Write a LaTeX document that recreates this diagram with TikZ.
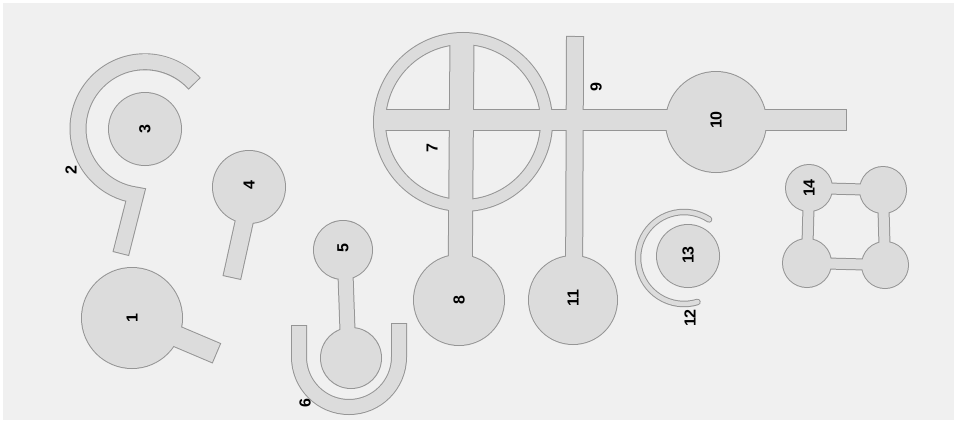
\documentclass[tikz,border=0pt]{standalone}
\usepackage{fontspec}
\setmainfont{Liberation Sans}
\definecolor{bgc}{HTML}{F0F0F0}
\definecolor{fillc}{HTML}{DCDCDC}
\definecolor{linec}{HTML}{959595}
\newcommand\drawparts[2]{%
 \begin{scope}[draw=#1,fill=#1]
 % 1
 \fill (132,318) circle[radius=50pt+#2];
 \draw[line width=20pt+2*#2, shorten >=-#2] (150,325) -- (216,353);
 % 2 (arc with stem)
 \draw[line width=15pt+2*#2, shorten >=-#2, shorten <=-#2] (194,83) arc[start angle=43, end angle=262, radius=67pt] -- (121,253);
 % 3
 \fill (145,129) circle[radius=36pt+#2];
 % 4
 \fill (249,187) circle[radius=36pt+#2];
 \draw[line width=17pt+2*#2, shorten >=-#2] (249,200) -- (232,277);
 % 5 and lower circle
 \fill (343,250) circle[radius=29pt+#2];
 \draw[line width=14pt+2*#2] (345,260) -- (348,345);
 \fill (351,358) circle[radius=30pt+#2];
 % 6 (U)
 \draw[line width=14pt+2*#2, shorten >=-#2, shorten <=-#2] (299,326) -- (299,357) arc[start angle=180, end angle=360, radius=50pt] -- (399,324);
 % 7 ring and bars
 \draw[line width=11pt+2*#2] (463,122) circle[radius=83.5pt];
 \draw[line width=20pt+2*#2, shorten >=-#2] (378,120) -- (846,120);
 \draw[line width=23pt+2*#2] (462,38) -- (460,300);
 % 8
 \fill (459,300) circle[radius=45pt+#2];
 % 9 bar and 11
 \draw[line width=16pt+2*#2, shorten <=-#2] (575,37) -- (574,300);
 \fill (573,300) circle[radius=44pt+#2];
 % 10
 \fill (716,122) circle[radius=50pt+#2];
 % 12 arc and 13
 \draw[line width=4.5pt+2*#2, line cap=round] (684,258) ++(57:46pt) arc[start angle=57, end angle=287, radius=46pt];
 \fill (688,256) circle[radius=31pt+#2];
 % 14 square
 \draw[line width=10pt+2*#2] (809,188) -- (883,190) -- (885,265) -- (807,263) -- cycle;
 \fill (809,188) circle[radius=23pt+#2];
 \fill (883,190) circle[radius=23pt+#2];
 \fill (807,263) circle[radius=24pt+#2];
 \fill (885,265) circle[radius=23pt+#2];
 \end{scope}}
\tikzset{lab/.style={font=\bfseries\fontsize{16}{16}\selectfont, rotate=90, inner sep=0pt, text=black}}
\begin{document}
\begin{tikzpicture}[x=1pt,y=-1pt]
 \useasboundingbox (0,0) rectangle (957,423);
 \fill[white] (0,0) rectangle (957,423);
 \fill[bgc] (3,3) rectangle (954,420);
 \drawparts{linec}{1pt}
 \drawparts{fillc}{0pt}
 \node[lab] (l1) at (132,318) {1};
 \node[lab] (l2) at (71,170) {2};
 \node[lab] (l3) at (145,129) {3};
 \node[lab] (l4) at (249,185) {4};
 \node[lab] (l5) at (343,248) {5};
 \node[lab] (l6) at (305,403) {6};
 \node[lab] (l7) at (432,148) {7};
 \node[lab] (l8) at (459,300) {8};
 \node[lab] (l9) at (596,87) {9};
 \node[lab] (l10) at (716,120) {10};
 \node[lab] (l11) at (573,298) {11};
 \node[lab] (l12) at (690,318) {12};
 \node[lab] (l13) at (688,255) {13};
 \node[lab] (l14) at (809,188) {14};
\end{tikzpicture}
\end{document}
